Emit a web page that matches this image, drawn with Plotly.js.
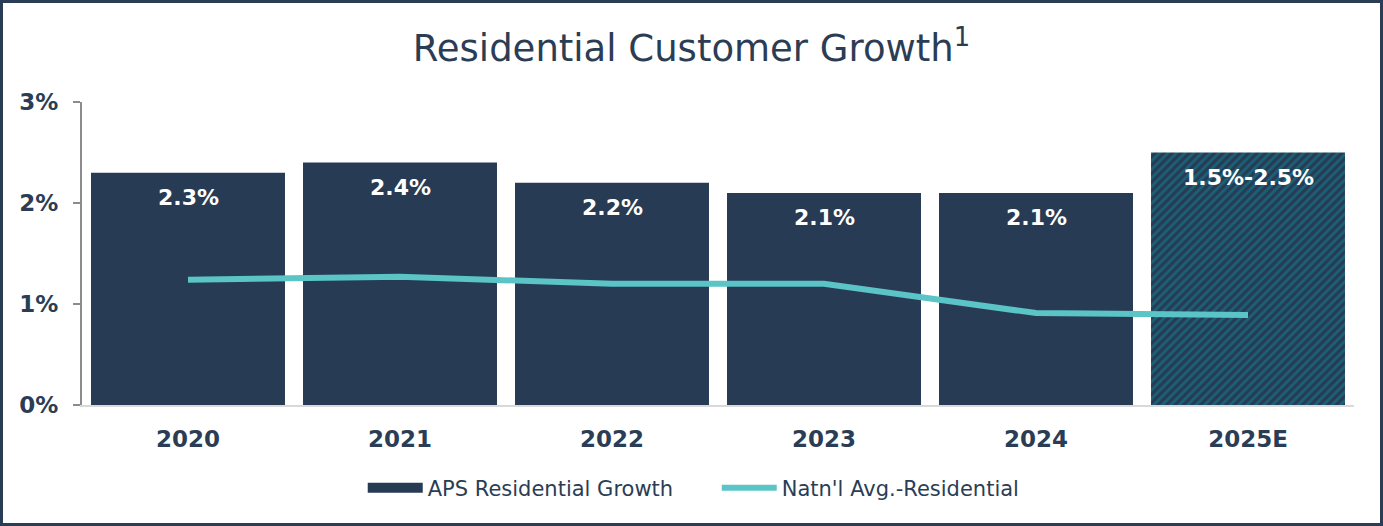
<!DOCTYPE html>
<html>
<head>
<meta charset="utf-8">
<script src="https://cdn.plot.ly/plotly-3.0.1.min.js"></script>
<style>
html,body{margin:0;padding:0;background:#fff;}
#wrap{width:1383px;height:526px;box-sizing:border-box;border:3px solid #2b3d55;overflow:hidden;}
#chart{width:1377px;height:520px;}
</style>
</head>
<body>
<div id="wrap"><div id="chart"></div></div>
<script>
const categories = ['2020','2021','2022','2023','2024','2025E'];
const apsGrowth = [2.3, 2.4, 2.2, 2.1, 2.1, 2.5];
const apsLabels = ['2.3%','2.4%','2.2%','2.1%','2.1%','1.5%-2.5%'];
const natlAvg = [1.24, 1.27, 1.2, 1.2, 0.91, 0.89];
const hatch = ['', '', '', '', '', '/'];
const yTicks = [0, 1, 2, 3];
const yTickText = yTicks.map(v => v + '%');

const navy = '#283b54';
const teal = '#5bc4c6';
const font = 'DejaVu Sans, Verdana, sans-serif';

const bars = {
  type: 'bar', x: categories, y: apsGrowth, name: 'APS Residential Growth',
  marker: {color: navy, line: {width: 0},
    pattern: {shape: hatch, fgcolor: '#0b8a9a', bgcolor: navy, fillmode: 'overlay', size: 6, solidity: 0.45}},
  showlegend: false, hoverinfo: 'skip'
};
// legend-only entry drawn as a wide navy rectangle
const barLegend = {
  type: 'scatter', mode: 'lines', x: [null], y: [null], name: 'APS Residential Growth',
  line: {color: navy, width: 12}, hoverinfo: 'skip'
};
const line = {
  type: 'scatter', mode: 'lines', x: categories, y: natlAvg, name: "Natn'l Avg.-Residential",
  line: {color: teal, width: 6}, hoverinfo: 'skip'
};

const annotations = categories.map((c, i) => ({
  x: i, y: apsGrowth[i], xref: 'x', yref: 'y', text: '<b>' + apsLabels[i] + '</b>',
  showarrow: false, yanchor: 'top', yshift: -10,
  font: {family: font, size: 22, color: '#ffffff'}
}));

const layout = {
  width: 1377, height: 520,
  margin: {l: 79, r: 26, t: 99, b: 118},
  paper_bgcolor: '#ffffff', plot_bgcolor: '#ffffff',
  title: {text: 'Residential Customer Growth<sup>1</sup>', x: 0.5, xanchor: 'center', y: 0.913, yanchor: 'middle', yref: 'container',
    font: {family: font, size: 37, color: '#2b3d55'}},
  bargap: 0.085,
  showlegend: true,
  legend: {orientation: 'h', x: 0.2207, xanchor: 'left', y: -0.274, yanchor: 'middle',
    font: {family: font, size: 21, color: '#2b3d55'}, itemwidth: 55, entrywidth: 284, traceorder: 'normal'},
  xaxis: {type: 'category', range: [-0.5, 5.5], autorange: false, showgrid: false, zeroline: false,
    showline: true, linecolor: '#d9d9d9', linewidth: 2,
    ticks: '', ticklabelstandoff: 12,
    tickfont: {family: font, size: 23, color: '#2b3d55', weight: 'bold'}},
  yaxis: {range: [0, 3], autorange: false, tickmode: 'array', tickvals: yTicks, ticktext: yTickText,
    showgrid: false, zeroline: false,
    showline: true, linecolor: '#8c8c8c', linewidth: 2, ticks: 'outside', ticklen: 7, tickcolor: '#8c8c8c', tickwidth: 2,
    ticklabelstandoff: 10,
    tickfont: {family: font, size: 23, color: '#2b3d55', weight: 'bold'}},
  annotations: annotations
};

Plotly.newPlot('chart', [bars, barLegend, line], layout, {displayModeBar: false, staticPlot: true});
</script>
</body>
</html>
